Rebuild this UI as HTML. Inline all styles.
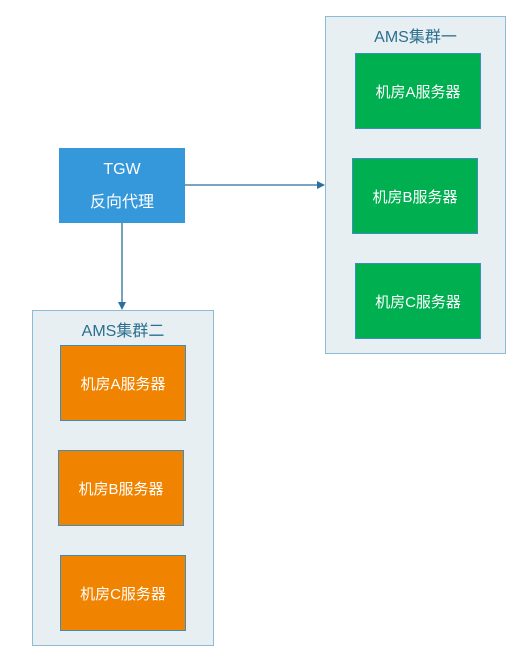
<!DOCTYPE html>
<html><head><meta charset="utf-8"><style>
body{margin:0;width:521px;height:658px;background:#fff;position:relative;font-family:"Liberation Sans","Noto Sans CJK SC",sans-serif;overflow:hidden}
.a{position:absolute;box-sizing:border-box}
.cl{background:#e8eff3;border:1px solid #8dbdd4}
.t{color:#2a6f8e;font-size:16px;text-align:center;width:100%;position:absolute}
.g{background:#00b050;border:1px solid #3a8fc0;color:#fff;font-size:15px;display:flex;align-items:center;justify-content:center}
.o{background:#f08300;border:1px solid #3a8fc0;color:#fff;font-size:15px;display:flex;align-items:center;justify-content:center}
</style></head><body>
<div class="a cl" style="left:325px;top:16px;width:181px;height:338px"><div class="t" style="top:6px">AMS集群一</div></div>
<div class="a g" style="left:355px;top:53px;width:126px;height:76px">机房A服务器</div>
<div class="a g" style="left:352px;top:158px;width:126px;height:76px">机房B服务器</div>
<div class="a g" style="left:355px;top:263px;width:126px;height:76px">机房C服务器</div>
<div class="a cl" style="left:32px;top:310px;width:182px;height:336px"><div class="t" style="top:6px">AMS集群二</div></div>
<div class="a o" style="left:60px;top:345px;width:126px;height:76px">机房A服务器</div>
<div class="a o" style="left:58px;top:450px;width:126px;height:76px">机房B服务器</div>
<div class="a o" style="left:60px;top:555px;width:126px;height:76px">机房C服务器</div>
<div class="a" style="left:59px;top:148px;width:126px;height:75px;background:#3498db;color:#fff;font-size:16px;text-align:center;line-height:33px;padding-top:5px">TGW<br>反向代理</div>
<svg class="a" style="left:0;top:0" width="521" height="658">
<line x1="185" y1="185" x2="318" y2="185" stroke="#2a6f9e" stroke-width="1.3"/>
<polygon points="325,185 317,181 317,189" fill="#2a6f9e"/>
<line x1="122" y1="223" x2="122" y2="303" stroke="#2a6f9e" stroke-width="1.3"/>
<polygon points="122,310 118,302 126,302" fill="#2a6f9e"/>
</svg>
</body></html>
